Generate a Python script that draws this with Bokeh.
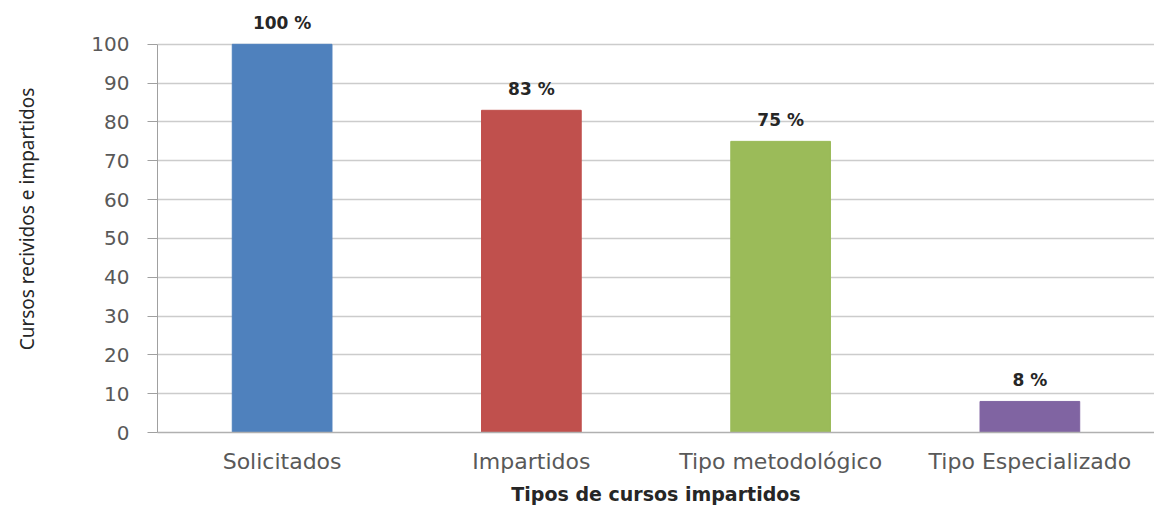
from bokeh.plotting import figure
from bokeh.models import ColumnDataSource, Range1d, FactorRange
from bokeh.core.properties import value
from bokeh.embed import file_html
from bokeh.resources import INLINE

categories = ["Solicitados", "Impartidos", "Tipo metodológico", "Tipo Especializado"]
values = [100, 83, 75, 8]
labels = ["100 %", "83 %", "75 %", "8 %"]
colors = ["#4F81BD", "#C0504D", "#9BBB59", "#8064A2"]
y_ticks = [0, 10, 20, 30, 40, 50, 60, 70, 80, 90, 100]

src = ColumnDataSource(dict(cat=categories, val=values, lab=labels, col=colors))

p = figure(width=1154, height=508, x_range=FactorRange(*categories, range_padding=0),
           y_range=Range1d(0, 110), output_backend="svg", toolbar_location=None,
           min_border_left=157, min_border_right=0, min_border_top=5, min_border_bottom=76)
p.outline_line_color = None
p.background_fill_color = "white"
p.border_fill_color = "white"

p.vbar(x="cat", top="val", width=0.4, color="col", source=src)
p.text(x="cat", y="val", text="lab", source=src, text_align="center", text_baseline="bottom",
       y_offset=-11, text_font=value("DejaVu Sans"), text_font_style="bold",
       text_font_size="17px", text_color="#262626")

p.xgrid.grid_line_color = None
p.ygrid.grid_line_color = "#cccccc"
p.ygrid.grid_line_width = 1.5
p.ygrid.bounds = (0, 100)
p.ygrid.ticker = y_ticks

yax = p.yaxis[0]
yax.ticker = y_ticks
yax.bounds = (0, 100)
yax.axis_line_color = "#a0a0a0"
yax.major_tick_line_color = "#a0a0a0"
yax.major_tick_out = 10
yax.major_tick_in = 0
yax.minor_tick_line_color = None
yax.major_label_standoff = 18
yax.major_label_text_font = "DejaVu Sans"
yax.major_label_text_font_size = "20px"
yax.major_label_text_color = "#595959"
yax.axis_label = "Cursos recividos e impartidos"
yax.axis_label_text_font = "Noto Sans"
yax.axis_label_text_font_size = "19px"
yax.axis_label_text_font_style = "normal"
yax.axis_label_text_color = "#262626"
yax.axis_label_standoff = 48

xax = p.xaxis[0]
xax.axis_line_color = "#b0b0b0"
xax.axis_line_width = 1.5
xax.major_tick_line_color = None
xax.minor_tick_line_color = None
xax.major_label_standoff = 10
xax.major_label_text_font = "DejaVu Sans"
xax.major_label_text_font_size = "22px"
xax.major_label_text_color = "#595959"
xax.axis_label = "Tipos de cursos impartidos"
xax.axis_label_text_font = "DejaVu Sans"
xax.axis_label_text_font_size = "19px"
xax.axis_label_text_font_style = "bold"
xax.axis_label_text_color = "#262626"
xax.axis_label_standoff = 6

open("out.html", "w").write(file_html(p, INLINE))
